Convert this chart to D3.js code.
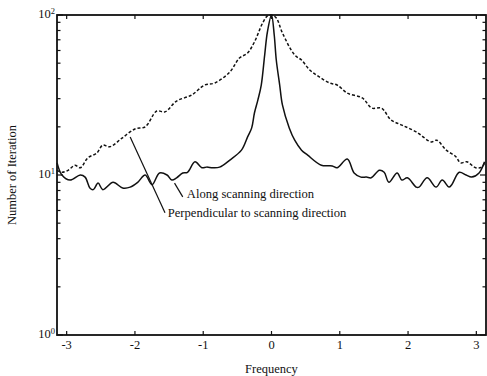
<!DOCTYPE html>
<html>
<head>
<meta charset="utf-8">
<script src="https://cdn.jsdelivr.net/npm/d3@7"></script>
<style>
  html, body { margin: 0; padding: 0; background: #fff; }
  svg { display: block; }
</style>
</head>
<body>
<div id="chart"></div>
<script>
// Data (frequency, number of iterations)
const alongFreq = [-3.14, -3.07, -2.95, -2.80, -2.73, -2.66, -2.61, -2.54, -2.47, -2.32, -2.18, -2.07, -1.96, -1.85, -1.75, -1.64, -1.53, -1.46, -1.39, -1.30, -1.23, -1.12, -1.02, -0.95, -0.86, -0.76, -0.61, -0.44, -0.35, -0.29, -0.25, -0.20, -0.15, -0.10, -0.06, 0, 0.04, 0.07, 0.12, 0.16, 0.26, 0.34, 0.44, 0.53, 0.73, 0.89, 0.96, 1.11, 1.21, 1.31, 1.39, 1.46, 1.58, 1.65, 1.72, 1.84, 1.91, 1.99, 2.12, 2.16, 2.28, 2.41, 2.50, 2.60, 2.64, 2.75, 2.85, 2.93, 3.04, 3.12]
const alongIter = [11.9, 10.0, 9.3, 10.0, 9.7, 8.3, 8.1, 8.9, 8.1, 9.0, 8.3, 8.4, 9.0, 10.0, 8.7, 10.3, 10.0, 9.3, 9.6, 10.3, 10.4, 12.1, 11.1, 11.2, 11.1, 11.2, 12.4, 14.3, 17.3, 19.7, 24.4, 29.4, 36.5, 56.2, 78.3, 100, 75.0, 52.3, 36.5, 27.4, 19.7, 16.5, 14.3, 13.3, 11.5, 11.4, 11.1, 12.6, 10.3, 9.7, 9.7, 9.6, 10.7, 10.4, 9.0, 10.3, 9.3, 9.6, 8.4, 8.4, 9.6, 8.4, 9.3, 8.4, 8.7, 10.4, 10.0, 9.7, 10.3, 12.1]
const perpFreq = [-3.14, -3.07, -2.98, -2.88, -2.80, -2.69, -2.56, -2.47, -2.37, -2.19, -2.00, -1.85, -1.68, -1.56, -1.39, -1.17, -0.98, -0.83, -0.61, -0.47, -0.35, -0.25, -0.13, -0.06, 0, 0.07, 0.16, 0.34, 0.44, 0.56, 0.70, 0.85, 0.96, 1.11, 1.33, 1.47, 1.61, 1.75, 1.91, 2.12, 2.34, 2.42, 2.56, 2.70, 2.77, 2.86, 2.99, 3.08, 3.12]
const perpIter = [10.7, 10.4, 10.7, 11.5, 11.1, 12.8, 13.7, 15.4, 15.0, 17.0, 19.4, 20.0, 25.1, 24.8, 29.0, 31.6, 36.5, 37.6, 44.0, 53.8, 57.9, 67.8, 89.1, 98.6, 100, 95.8, 77.2, 56.2, 52.3, 45.3, 41.0, 37.6, 36.5, 32.5, 30.3, 26.2, 26.2, 22.1, 20.5, 18.6, 16.1, 16.5, 14.3, 13.0, 11.9, 12.1, 11.1, 11.2, 11.9]

// Axis ticks
const freqTicks = [-3, -2, -1, 0, 1, 2, 3]
const decadeTicks = [0, 1, 2]

// Labels with their pointers, in data units
const notes = [
  { text: "Along scanning direction", from: [-1.42, 8.9], to: [-1.30, 7.3], at: [-1.24, 7.15] },
  { text: "Perpendicular to scanning direction", from: [-2.07, 17.3], to: [-1.56, 5.8], at: [-1.52, 5.45] },
]

// Create SVG
const width = 487, height = 376
const margin = { top: 15, right: 1, bottom: 41, left: 57 }
const font = "'Liberation Serif', 'Times New Roman', serif"
const svg = d3.select("#chart").append("svg")
  .attr("width", width)
  .attr("height", height)
  .attr("font-family", font)

const x = d3.scaleLinear().domain([-Math.PI, Math.PI]).range([margin.left, width - margin.right])
const y = d3.scaleLog().domain([1, 100]).range([height - margin.bottom, margin.top])
const [x0, x1] = x.range()
const [y0, y1] = y.range()

// Minor log ticks (2..9 in each decade)
const minor = d3.range(0, 2).flatMap(d => d3.range(2, 10).map(k => k * 10 ** d))

// Render frame
svg.append("rect")
  .attr("x", x0).attr("y", y1)
  .attr("width", x1 - x0).attr("height", y0 - y1)
  .attr("fill", "none").attr("stroke", "#111").attr("stroke-width", 1.8)

// Render ticks (inward, on all four sides)
const ticks = svg.append("g").attr("stroke", "#111").attr("stroke-width", 1.2)
freqTicks.forEach(t => {
  ticks.append("line").attr("x1", x(t)).attr("x2", x(t)).attr("y1", y0).attr("y2", y0 - 4)
  ticks.append("line").attr("x1", x(t)).attr("x2", x(t)).attr("y1", y1).attr("y2", y1 + 4)
})
decadeTicks.forEach(d => {
  ticks.append("line").attr("x1", x0).attr("x2", x0 + 6).attr("y1", y(10 ** d)).attr("y2", y(10 ** d))
  ticks.append("line").attr("x1", x1).attr("x2", x1 - 6).attr("y1", y(10 ** d)).attr("y2", y(10 ** d))
})
minor.forEach(v => {
  ticks.append("line").attr("x1", x0).attr("x2", x0 + 3.5).attr("y1", y(v)).attr("y2", y(v))
  ticks.append("line").attr("x1", x1).attr("x2", x1 - 3.5).attr("y1", y(v)).attr("y2", y(v))
})

// Render tick labels
svg.append("g")
  .attr("font-size", "12.5px").attr("fill", "#111").attr("text-anchor", "middle")
  .selectAll("text")
  .data(freqTicks)
  .join("text")
  .attr("x", d => x(d))
  .attr("y", y0 + 14)
  .text(d => d < 0 ? `-${-d}` : `${d}`)

const ylab = svg.append("g")
  .attr("font-size", "12.5px").attr("fill", "#111").attr("text-anchor", "end")
  .selectAll("text")
  .data(decadeTicks)
  .join("text")
  .attr("x", x0 - 2)
  .attr("y", d => y(10 ** d) + 3)
ylab.append("tspan").text("10")
ylab.append("tspan").attr("font-size", "8.5px").attr("dy", -4).text(d => d)

// Render axis titles
svg.append("text")
  .attr("x", (x0 + x1) / 2).attr("y", height - 3)
  .attr("text-anchor", "middle").attr("font-size", "12.5px").attr("fill", "#111")
  .text("Frequency")
svg.append("text")
  .attr("transform", `translate(16,${(y0 + y1) / 2}) rotate(-90)`)
  .attr("text-anchor", "middle").attr("font-size", "12.5px").attr("fill", "#111")
  .text("Number of Iteration")

// Render curves
const line = d3.line()
  .x(d => x(d[0]))
  .y(d => y(d[1]))
  .curve(d3.curveCatmullRom.alpha(0.5))

svg.append("path")
  .datum(d3.zip(perpFreq, perpIter))
  .attr("d", line)
  .attr("fill", "none").attr("stroke", "#111").attr("stroke-width", 1.5)
  .attr("stroke-dasharray", "3,2")

svg.append("path")
  .datum(d3.zip(alongFreq, alongIter))
  .attr("d", line)
  .attr("fill", "none").attr("stroke", "#111").attr("stroke-width", 1.5)

// Render annotations
const ann = svg.append("g").attr("font-size", "12.6px").attr("fill", "#111")
notes.forEach(n => {
  ann.append("line")
    .attr("x1", x(n.from[0])).attr("y1", y(n.from[1]))
    .attr("x2", x(n.to[0])).attr("y2", y(n.to[1]))
    .attr("stroke", "#111").attr("stroke-width", 1.2)
  ann.append("text")
    .attr("x", x(n.at[0])).attr("y", y(n.at[1]))
    .text(n.text)
})
</script>
</body>
</html>
